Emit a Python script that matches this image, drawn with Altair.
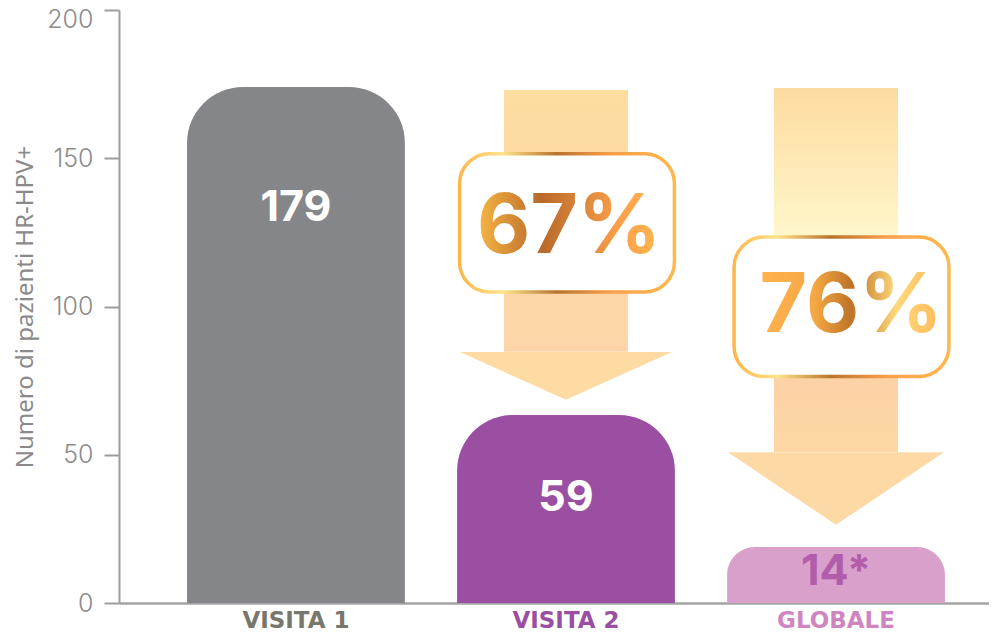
import altair as alt
import pandas as pd

# ---- data ----
categories = ["VISITA 1", "VISITA 2", "GLOBALE"]
bar_heights = [174.0, 63.4, 18.9]          # drawn bar heights (axis units)
bar_labels = ["179", "59", "14*"]
label_y = [133.2, 35.4, 10.5]

arrow_cats = ["VISITA 2", "GLOBALE"]
arrow_top = [173.0, 173.7]
arrow_head_base = [84.7, 50.9]
arrow_tip = [68.5, 26.3]
box_top = [151.5, 123.4]
box_bottom = [104.9, 76.4]
pct_labels = ["67%", "76%"]
pct_y = [126.5, 99.8]

bars = pd.DataFrame({"cat": categories, "h": bar_heights, "lab": bar_labels, "ly": label_y})
arrows = pd.DataFrame({
    "cat": arrow_cats, "top": arrow_top, "base": arrow_head_base, "tip": arrow_tip,
    "btop": box_top, "bbot": box_bottom, "pct": pct_labels, "py": pct_y,
})
arrows["hmid"] = (arrows["base"] + arrows["tip"]) / 2

FONT = "Inter"
x_scale = alt.Scale(domain=categories, paddingInner=0.193, paddingOuter=0.2075, align=0.607)
y_scale = alt.Scale(domain=[0, 200], nice=False)

x_enc = alt.X("cat:N", scale=x_scale, sort=categories, title=None,
              axis=alt.Axis(labelAngle=0, ticks=False, domainColor="#A3A3A3", domainWidth=2.5,
                            labelFont="DejaVu Sans", labelFontSize=23, labelFontWeight="bold",
                            labelBaseline="top", labelPadding=6,
                            labelColor=alt.ExprRef(expr="datum.value == 'VISITA 1' ? '#77776d' : (datum.value == 'VISITA 2' ? '#9a4fa2' : '#cf86c0')")))
y_axis = alt.Axis(values=[0, 50, 100, 150, 200], grid=False, domainColor="#9C9C9C", domainWidth=2,
                  tickColor="#9C9C9C", tickWidth=2, tickSize=15, labelPadding=11,
                  labelOffset=alt.ExprRef(expr="datum.value == 200 ? 9 : 0"),
                  labelFont=FONT, labelFontSize=25, labelFontWeight=300, labelColor="#8C8C8C",
                  title="Numero di pazienti HR-HPV+", titleFont="Noto Sans", titleFontSize=24,
                  titleFontWeight="normal", titleColor="#8A8A8A", titlePadding=9)

def grad_v(stops):
    return alt.LinearGradient(gradient="linear", x1=0, x2=0, y1=0, y2=1,
                              stops=[alt.GradientStop(color=c, offset=o) for o, c in stops])

def grad_h(stops):
    return alt.LinearGradient(gradient="linear", x1=0, x2=1, y1=0, y2=0,
                              stops=[alt.GradientStop(color=c, offset=o) for o, c in stops])

base_a = alt.Chart(arrows)

shaft1 = base_a.transform_filter("datum.cat == 'VISITA 2'").mark_bar(
    width=alt.RelativeBandSize(0.569),
    color=grad_v([(0, "#FDDDA0"), (0.5, "#FDD9A4"), (1, "#FDD5A8")])
).encode(x=x_enc, y=alt.Y("top:Q", scale=y_scale, axis=y_axis), y2="base:Q")

shaft2 = base_a.transform_filter("datum.cat == 'GLOBALE'").mark_bar(
    width=alt.RelativeBandSize(0.569),
    color=grad_v([(0, "#FDDBA0"), (0.40, "#FFF6CA"), (0.80, "#FDD2A6"), (1, "#FDD7A5")])
).encode(x=x_enc, y=alt.Y("top:Q", scale=y_scale), y2="base:Q")

head1 = base_a.transform_filter("datum.cat == 'VISITA 2'").mark_point(
    shape="M-1,-0.2245L1,-0.2245L0,0.2245Z", filled=True, fill="#FDDBA3", strokeWidth=0,
    opacity=1, size=212 * 212
).encode(x=x_enc, y=alt.Y("hmid:Q", scale=y_scale))

head2 = base_a.transform_filter("datum.cat == 'GLOBALE'").mark_point(
    shape="M-1,-0.335L1,-0.335L0,0.335Z", filled=True, fill="#FDD9A5", strokeWidth=0,
    opacity=1, size=216 * 216
).encode(x=x_enc, y=alt.Y("hmid:Q", scale=y_scale))

box_stroke = grad_h([(0, "#FDB64C"), (0.2, "#FFE38A"), (0.45, "#B8742C"), (0.72, "#FFA04A"), (1, "#FDB84E")])
box1 = base_a.transform_filter("datum.cat == 'VISITA 2'").mark_bar(
    width=alt.RelativeBandSize(0.986), cornerRadius=30, fill="white", stroke=box_stroke,
    strokeWidth=3.5, xOffset=1
).encode(x=x_enc, y=alt.Y("btop:Q", scale=y_scale), y2="bbot:Q")
box2 = base_a.transform_filter("datum.cat == 'GLOBALE'").mark_bar(
    width=alt.RelativeBandSize(0.986), cornerRadius=30, fill="white", stroke=box_stroke,
    strokeWidth=3.5, xOffset=5.5
).encode(x=x_enc, y=alt.Y("btop:Q", scale=y_scale), y2="bbot:Q")

pct1 = base_a.transform_filter("datum.cat == 'VISITA 2'").mark_text(
    font=FONT, fontSize=82, fontWeight="bold", dx=3, baseline="middle",
    fill=grad_h([(0, "#F7B645"), (0.35, "#B9692A"), (0.6, "#E08A3C"), (0.8, "#FFA24C"), (1, "#FDB84E")])
).encode(x=x_enc, y=alt.Y("py:Q", scale=y_scale), text="pct:N")
pct2 = base_a.transform_filter("datum.cat == 'GLOBALE'").mark_text(
    font=FONT, fontSize=82, fontWeight="bold", dx=15, baseline="middle",
    fill=grad_h([(0, "#FFB24F"), (0.3, "#F5A843"), (0.5, "#BE7427"), (0.75, "#FFD97A"), (1, "#FFB85A")])
).encode(x=x_enc, y=alt.Y("py:Q", scale=y_scale), text="pct:N")

base_b = alt.Chart(bars)
bar_colors = alt.Color("cat:N", scale=alt.Scale(domain=categories, range=["#858689", "#9A4FA2", "#D9A0CB"]), legend=None)
bars12 = base_b.transform_filter("datum.cat != 'GLOBALE'").mark_bar(
    cornerRadiusTopLeft=56, cornerRadiusTopRight=56
).encode(x=x_enc, y=alt.Y("h:Q", scale=y_scale), color=bar_colors)
bar3 = base_b.transform_filter("datum.cat == 'GLOBALE'").mark_bar(
    cornerRadiusTopLeft=30, cornerRadiusTopRight=30
).encode(x=x_enc, y=alt.Y("h:Q", scale=y_scale), color=bar_colors)

labels = base_b.mark_text(font=FONT, fontSize=43, fontWeight="bold", baseline="middle").encode(
    x=x_enc, y=alt.Y("ly:Q", scale=y_scale), text="lab:N",
    fill=alt.Fill("cat:N", scale=alt.Scale(domain=categories, range=["#FFFFFF", "#FFFFFF", "#B15DAC"]), legend=None))

chart = alt.layer(shaft1, shaft2, head1, head2, box1, box2, pct1, pct2, bars12, bar3, labels).resolve_scale(
    color="independent", fill="independent"
).properties(
    width=870, height=593,
    padding={"left": 111, "top": 2, "right": 0, "bottom": 30},
    autosize=alt.AutoSizeParams(type="none"),
).configure_view(stroke=None)

chart.save("out.html", embed_options={"renderer": "svg", "actions": False})
